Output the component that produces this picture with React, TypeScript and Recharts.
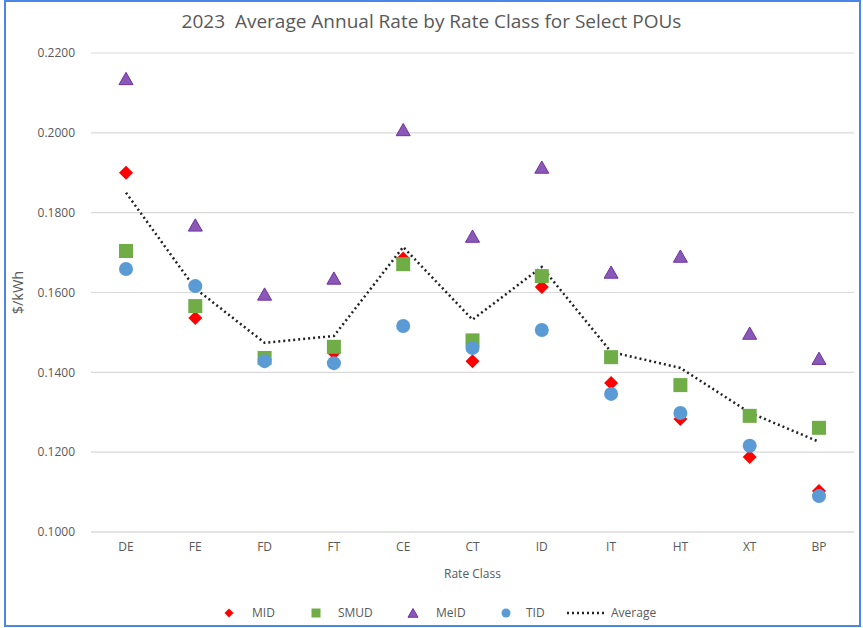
import React from 'react';
import { ComposedChart, Line, Scatter, XAxis, YAxis, CartesianGrid } from 'recharts';

const rateClasses = ['DE', 'FE', 'FD', 'FT', 'CE', 'CT', 'ID', 'IT', 'HT', 'XT', 'BP'];
const midRates = [0.19, 0.1536, 0.1432, 0.1449, 0.1685, 0.1428, 0.1614, 0.1373, 0.1283, 0.1188, 0.1103];
const smudRates = [0.1704, 0.1566, 0.1436, 0.1464, 0.1671, 0.148, 0.1641, 0.1438, 0.1368, 0.1291, 0.1261];
const meidRates = [0.2134, 0.1767, 0.1594, 0.1634, 0.2006, 0.1739, 0.1912, 0.1649, 0.1689, 0.1496, 0.1433];
const tidRates = [0.1659, 0.1616, 0.1428, 0.1423, 0.1516, 0.1461, 0.1506, 0.1346, 0.1298, 0.1216, 0.109];
const averageRates = [0.185, 0.161, 0.1474, 0.1491, 0.1714, 0.1532, 0.1664, 0.1451, 0.1411, 0.1299, 0.1226];
const yTicks = [0.1, 0.12, 0.14, 0.16, 0.18, 0.2, 0.22];

const data = rateClasses.map((name, i) => ({
  name,
  mid: midRates[i],
  smud: smudRates[i],
  meid: meidRates[i],
  tid: tidRates[i],
  avg: averageRates[i],
}));

const FONT = '"Open Sans", "Noto Sans", sans-serif';
const TEXT = '#595959';

const RED = '#ff0000';
const GREEN = '#70ad47';
const PURPLE = '#8a58b6';
const PURPLE_EDGE = '#7030a0';
const BLUE = '#5b9bd5';

const Diamond = ({ cx, cy, s = 7 }: any) => (
  <path d={`M${cx},${cy - s}L${cx + s},${cy}L${cx},${cy + s}L${cx - s},${cy}Z`} fill={RED} />
);
const Square = ({ cx, cy, s = 7 }: any) => (
  <rect x={cx - s} y={cy - s} width={s * 2} height={s * 2} fill={GREEN} />
);
const Triangle = ({ cx, cy, s = 7 }: any) => (
  <path
    d={`M${cx},${cy - s}L${cx + s},${cy + s * 0.75}L${cx - s},${cy + s * 0.75}Z`}
    fill={PURPLE}
    stroke={PURPLE_EDGE}
    strokeWidth={1}
  />
);
const Circle = ({ cx, cy, s = 7 }: any) => <circle cx={cx} cy={cy} r={s} fill={BLUE} />;

// legend icons sit at fixed x offsets like the original Excel legend
function LegendRow() {
  const icon = (x: number, child: React.ReactNode, w = 12) => (
    <svg width={w} height={12} style={{ position: 'absolute', left: x - w / 2, top: 607 }}>
      {child}
    </svg>
  );
  const label = (x: number, text: string) => (
    <span style={{ position: 'absolute', left: x, top: 604, fontFamily: FONT, fontSize: 12, color: TEXT }}>{text}</span>
  );
  return (
    <>
      {icon(229, <Diamond cx={6} cy={6} s={4.5} />)}
      {label(252, 'MID')}
      {icon(316, <Square cx={6} cy={6} s={4.5} />)}
      {label(338, 'SMUD')}
      {icon(413, <Triangle cx={6} cy={6.5} s={5} />)}
      {label(436, 'MeID')}
      {icon(506, <Circle cx={6} cy={6} s={4.5} />)}
      {label(526, 'TID')}
      {icon(586, <line x1={1} y1={6} x2={39} y2={6} stroke="#222" strokeWidth={2.5} strokeDasharray="2 3" />, 40)}
      {label(611, 'Average')}
    </>
  );
}

export default function App() {
  return (
    <div style={{ position: 'absolute', left: 0, top: 0, width: 863, height: 628, background: '#fff' }}>
      <div
        style={{
          position: 'absolute',
          left: 4,
          top: 0,
          width: 857,
          height: 627,
          border: '2px solid #4a86e8',
          boxSizing: 'border-box',
        }}
      />
      <div
        style={{
          position: 'absolute',
          top: 8,
          left: 0,
          width: 863,
          textAlign: 'center',
          fontFamily: FONT,
          fontSize: 19,
          color: TEXT,
        }}
      >
        2023&nbsp; Average Annual Rate by Rate Class for Select POUs
      </div>
      <div style={{ position: 'absolute', left: 0, top: 0 }}>
        <ComposedChart
          width={863}
          height={628}
          data={data}
          margin={{ top: 53, right: 9, bottom: 44, left: 0 }}
        >
          <CartesianGrid vertical={false} stroke="#d9d9d9" strokeWidth={1.2} />
          <XAxis
            dataKey="name"
            padding={{ left: 35, right: 35 }}
            axisLine={{ stroke: '#d9d9d9' }}
            tickLine={false}
            tickSize={8}
            tickMargin={2}
            height={52}
            tick={{ fill: TEXT, fontSize: 12, fontFamily: FONT }}
            label={{
              value: 'Rate Class',
              position: 'insideBottom',
              offset: 6,
              fill: TEXT,
              fontSize: 12,
              fontFamily: FONT,
            }}
          />
          <YAxis
            domain={[0.1, 0.22]}
            ticks={yTicks}
            width={91}
            axisLine={false}
            tickLine={false}
            tickSize={14}
            tickMargin={2}
            tickFormatter={(v: number) => v.toFixed(4)}
            tick={{ fill: TEXT, fontSize: 12, fontFamily: FONT }}
            label={{
              value: '$/kWh',
              angle: -90,
              position: 'insideLeft',
              offset: 18,
              fill: TEXT,
              fontSize: 14.5,
              fontFamily: FONT,
              style: { textAnchor: 'middle' },
            }}
          />
          <Scatter dataKey="mid" isAnimationActive={false} shape={(p: any) => <Diamond cx={p.cx} cy={p.cy} s={7} />} />
          <Scatter dataKey="smud" isAnimationActive={false} shape={(p: any) => <Square cx={p.cx} cy={p.cy} s={7} />} />
          <Scatter dataKey="meid" isAnimationActive={false} shape={(p: any) => <Triangle cx={p.cx} cy={p.cy} s={7} />} />
          <Scatter dataKey="tid" isAnimationActive={false} shape={(p: any) => <Circle cx={p.cx} cy={p.cy} s={7} />} />
          <Line
            dataKey="avg"
            type="linear"
            stroke="#222"
            strokeWidth={2.5}
            strokeDasharray="2 3"
            dot={false}
            activeDot={false}
            isAnimationActive={false}
          />
        </ComposedChart>
      </div>
      <LegendRow />
    </div>
  );
}
